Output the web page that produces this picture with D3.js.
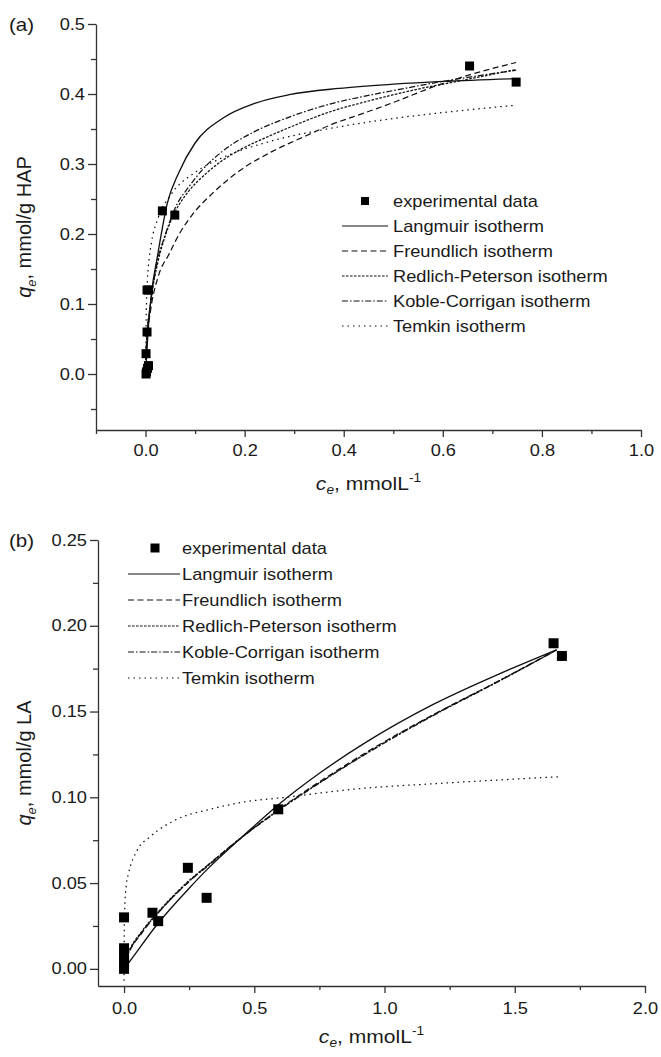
<!DOCTYPE html>
<html><head><meta charset="utf-8">
<script src="https://cdn.jsdelivr.net/npm/d3@7"></script>
<style>
body{margin:0;background:#fff}
text{font-family:"Liberation Sans",Arial,sans-serif;fill:#1a1a1a}
</style>
</head><body>
<svg id="chart" width="661" height="1057"></svg>
<script>
// ---------------- data ----------------
const seriesNames = ["experimental data","Langmuir isotherm","Freundlich isotherm","Redlich-Peterson isotherm","Koble-Corrigan isotherm","Temkin isotherm"];

// Panel (a): HAP
const aXTicks = [0.0,0.2,0.4,0.6,0.8,1.0];
const aXMinor = [-0.1,0.1,0.3,0.5,0.7,0.9];
const aYTicks = [0.0,0.1,0.2,0.3,0.4,0.5];
const aYMinor = [-0.05,0.05,0.15,0.25,0.35,0.45];
const aExpC = [0.654,0.748,0.034,0.059,0.003,0.006,0.003,0.001,0.006,0.004,0.002,0.001];
const aExpQ = [0.440,0.417,0.233,0.227,0.120,0.120,0.060,0.029,0.012,0.008,0.003,0.000];
const aLangC = [0,0.005,0.012,0.024,0.044,0.068,0.1,0.155,0.222,0.29,0.39,0.5,0.6,0.748];
const aLangQ = [0,0.06,0.115,0.168,0.244,0.289,0.33,0.365,0.387,0.399,0.408,0.414,0.418,0.422];
const aFreuC = [0.0005,0.002,0.01,0.025,0.048,0.068,0.095,0.135,0.189,0.256,0.323,0.374,0.442,0.508,0.576,0.643,0.748];
const aFreuQ = [0.02,0.04,0.09,0.138,0.172,0.2,0.228,0.258,0.29,0.318,0.34,0.356,0.373,0.39,0.409,0.425,0.445];
const aRPC = [0.0005,0.002,0.01,0.025,0.04,0.06,0.088,0.12,0.155,0.19,0.25,0.3,0.374,0.45,0.55,0.65,0.748];
const aRPQ = [0.02,0.045,0.1,0.16,0.198,0.232,0.262,0.285,0.305,0.32,0.34,0.355,0.375,0.39,0.407,0.421,0.435];
const aKCC = [0.0005,0.002,0.01,0.025,0.038,0.061,0.088,0.115,0.155,0.222,0.29,0.374,0.45,0.508,0.6,0.748];
const aKCQ = [0.02,0.045,0.1,0.165,0.195,0.239,0.268,0.292,0.318,0.347,0.367,0.386,0.398,0.406,0.418,0.434];
const aTemC = [0.00025,0.0005,0.001,0.003,0.006,0.012,0.025,0.05,0.1,0.155,0.25,0.374,0.5,0.62,0.748];
const aTemQ = [0.005,0.036,0.069,0.122,0.155,0.188,0.222,0.255,0.288,0.309,0.332,0.351,0.365,0.375,0.384];

// Panel (b): LA
const bXTicks = [0.0,0.5,1.0,1.5,2.0];
const bXMinor = [0.25,0.75,1.25,1.75];
const bYTicks = [0.00,0.05,0.10,0.15,0.20,0.25];
const bYMinor = [0.025,0.075,0.125,0.175,0.225];
const bExpC = [0,0,0,0,0,0.109,0.131,0.245,0.317,0.592,1.649,1.681];
const bExpQ = [0.030,0.012,0.008,0.004,0.000,0.0327,0.0278,0.0589,0.0414,0.093,0.1898,0.1824];
const bLangC = [0,0.02,0.133,0.25,0.326,0.454,0.595,0.75,0.928,1.185,1.441,1.66];
const bLangQ = [0,0.004,0.027,0.047,0.059,0.077,0.096,0.114,0.132,0.154,0.172,0.186];
const bFreuC = [0,0.005,0.018,0.069,0.133,0.25,0.326,0.454,0.595,0.75,0.928,1.185,1.441,1.66];
const bFreuQ = [0,0.0037,0.009,0.021,0.033,0.051,0.061,0.077,0.093,0.109,0.126,0.148,0.168,0.186];
const bRPC = [0,0.005,0.018,0.069,0.133,0.25,0.326,0.454,0.595,0.75,0.928,1.185,1.441,1.66];
const bRPQ = [0,0.005,0.010,0.022,0.0335,0.0515,0.061,0.077,0.0928,0.1085,0.1255,0.1478,0.168,0.1858];
const bKCC = [0,0.005,0.018,0.069,0.133,0.25,0.326,0.454,0.595,0.75,0.928,1.185,1.441,1.66];
const bKCQ = [0,0.0045,0.0095,0.0215,0.033,0.051,0.0605,0.0768,0.0925,0.1083,0.1252,0.1475,0.1678,0.1858];
const bTemC = [0.00012,0.0003,0.001,0.003,0.008,0.018,0.05,0.1,0.2,0.33,0.45,0.62,0.9,1.2,1.67];
const bTemQ = [-0.007,0.009,0.024,0.037,0.048,0.056,0.069,0.077,0.087,0.093,0.097,0.1,0.105,0.108,0.112];

// ---------------- drawing ----------------
const SX = 1.14;   // horizontal text stretch seen in the reference
const FS = 16;
const svg = d3.select("#chart");
svg.append("rect").attr("width",661).attr("height",1057).attr("fill","#fff");

const dashStyles = [null, null, "6,3.5", "2.6,1.4", "6,2,1.6,2", "1.5,4"];
const zip = (c,q) => c.map((v,i)=>[v,q[i]]);

function stretchedText(g, x, y, anchor, size){
  return g.append("text")
    .attr("transform", `translate(${x},${y}) scale(${SX},1)`)
    .attr("text-anchor", anchor).attr("font-size", size||FS);
}

function drawPanel(p){
  const g = svg.append("g");
  const x = d3.scaleLinear().domain(p.xDom).range([p.left,p.right]);
  const y = d3.scaleLinear().domain(p.yDom).range([p.bottom,p.top]);

  const styleAxis = sel => {
    sel.selectAll("path,line").attr("stroke","#333").attr("stroke-width",1.3);
    sel.selectAll("text").attr("font-size",FS).attr("fill","#1a1a1a")
       .attr("font-family",'"Liberation Sans",Arial,sans-serif');
  };
  const gxm = g.append("g").attr("transform",`translate(0,${p.bottom})`)
    .call(d3.axisBottom(x).tickValues(p.xMinor).tickSize(4).tickSizeOuter(0).tickFormat(""));
  gxm.select(".domain").remove(); styleAxis(gxm);
  const gx = g.append("g").attr("transform",`translate(0,${p.bottom})`)
    .call(d3.axisBottom(x).tickValues(p.xTicks).tickSize(7).tickSizeOuter(0).tickPadding(p.xPad).tickFormat(d3.format(p.xFmt)));
  styleAxis(gx);
  gx.selectAll(".tick text").attr("transform",`scale(${SX},1)`);

  const gym = g.append("g").attr("transform",`translate(${p.left},0)`)
    .call(d3.axisLeft(y).tickValues(p.yMinor).tickSize(5).tickSizeOuter(0).tickFormat(""));
  gym.select(".domain").remove(); styleAxis(gym);
  const gy = g.append("g").attr("transform",`translate(${p.left},0)`)
    .call(d3.axisLeft(y).tickValues(p.yTicks).tickSize(8).tickSizeOuter(0).tickPadding(3).tickFormat(d3.format(p.yFmt)));
  styleAxis(gy);
  gy.selectAll(".tick text").attr("transform",`scale(${SX},1)`).attr("x",-11/SX);

  // fitted curves
  const line = d3.line().x(d=>x(d[0])).y(d=>y(d[1])).curve(d3.curveMonotoneX);
  p.curves.forEach((cv,i)=>{
    g.append("path").datum(zip(cv[0],cv[1]))
      .attr("d",line).attr("fill","none").attr("stroke","#111")
      .attr("stroke-width", i===0?1.35:1.25)
      .attr("stroke-dasharray", dashStyles[i+1]);
  });

  // experimental squares
  g.selectAll("rect.pt").data(zip(p.expC,p.expQ)).join("rect").attr("class","pt")
    .attr("x",d=>x(d[0])-p.ms/2).attr("y",d=>y(d[1])-p.ms/2)
    .attr("width",p.ms).attr("height",p.ms).attr("fill","#000");

  // panel label
  stretchedText(g, 9, p.top+7, "start", 18).text(p.label);

  // x title
  const xt = stretchedText(g, (p.left+p.right)/2, p.xTitleY, "middle", 18.5);
  xt.append("tspan").attr("font-style","italic").text("c");
  xt.append("tspan").attr("font-size",12).attr("font-style","italic").attr("dy",4).text("e");
  xt.append("tspan").attr("dy",-4).text(", mmolL");
  xt.append("tspan").attr("font-size",12).attr("dy",-8).text("-1");

  // y title
  const yt = g.append("text")
    .attr("transform",`translate(${p.yTitleX},${(p.top+p.bottom)/2}) rotate(-90)`)
    .attr("text-anchor","middle").attr("font-size",20);
  yt.append("tspan").attr("font-style","italic").text("q");
  yt.append("tspan").attr("font-size",13).attr("font-style","italic").attr("dy",5).text("e");
  yt.append("tspan").attr("dy",-5).text(p.yUnit);

  // legend
  seriesNames.forEach((name,i)=>{
    const cy = p.legY + i*p.legStep;
    if(i===0){
      g.append("rect").attr("x",p.legMark-p.lms/2).attr("y",cy-p.lms/2)
        .attr("width",p.lms).attr("height",p.lms).attr("fill","#000");
    } else {
      g.append("line").attr("x1",p.legL1).attr("x2",p.legL2).attr("y1",cy).attr("y2",cy)
        .attr("stroke","#111").attr("stroke-width",1.2).attr("stroke-dasharray",dashStyles[i]);
    }
    stretchedText(g, p.legText, cy+6, "start").text(name);
  });
}

drawPanel({
  label:"(a)", left:96, right:641, top:24, bottom:430,
  xDom:[-0.1,1.0], yDom:[-0.08,0.5],
  xTicks:aXTicks, xMinor:aXMinor, yTicks:aYTicks, yMinor:aYMinor,
  xFmt:".1f", yFmt:".1f", xPad:8,
  xTitleY:490, yTitleX:31, yUnit:", mmol/g HAP",
  expC:aExpC, expQ:aExpQ, ms:9,
  curves:[[aLangC,aLangQ],[aFreuC,aFreuQ],[aRPC,aRPQ],[aKCC,aKCQ],[aTemC,aTemQ]],
  legY:201, legStep:25, legMark:365, lms:8, legL1:342, legL2:388, legText:393
});

drawPanel({
  label:"(b)", left:98, right:645, top:540, bottom:986,
  xDom:[-0.1,2.0], yDom:[-0.01,0.25],
  xTicks:bXTicks, xMinor:bXMinor, yTicks:bYTicks, yMinor:bYMinor,
  xFmt:".1f", yFmt:".2f", xPad:10,
  xTitleY:1043, yTitleX:31, yUnit:", mmol/g LA",
  expC:bExpC, expQ:bExpQ, ms:10,
  curves:[[bLangC,bLangQ],[bFreuC,bFreuQ],[bRPC,bRPQ],[bKCC,bKCQ],[bTemC,bTemQ]],
  legY:548, legStep:26, legMark:155, lms:9, legL1:128, legL2:180, legText:182
});
</script>
</body></html>
